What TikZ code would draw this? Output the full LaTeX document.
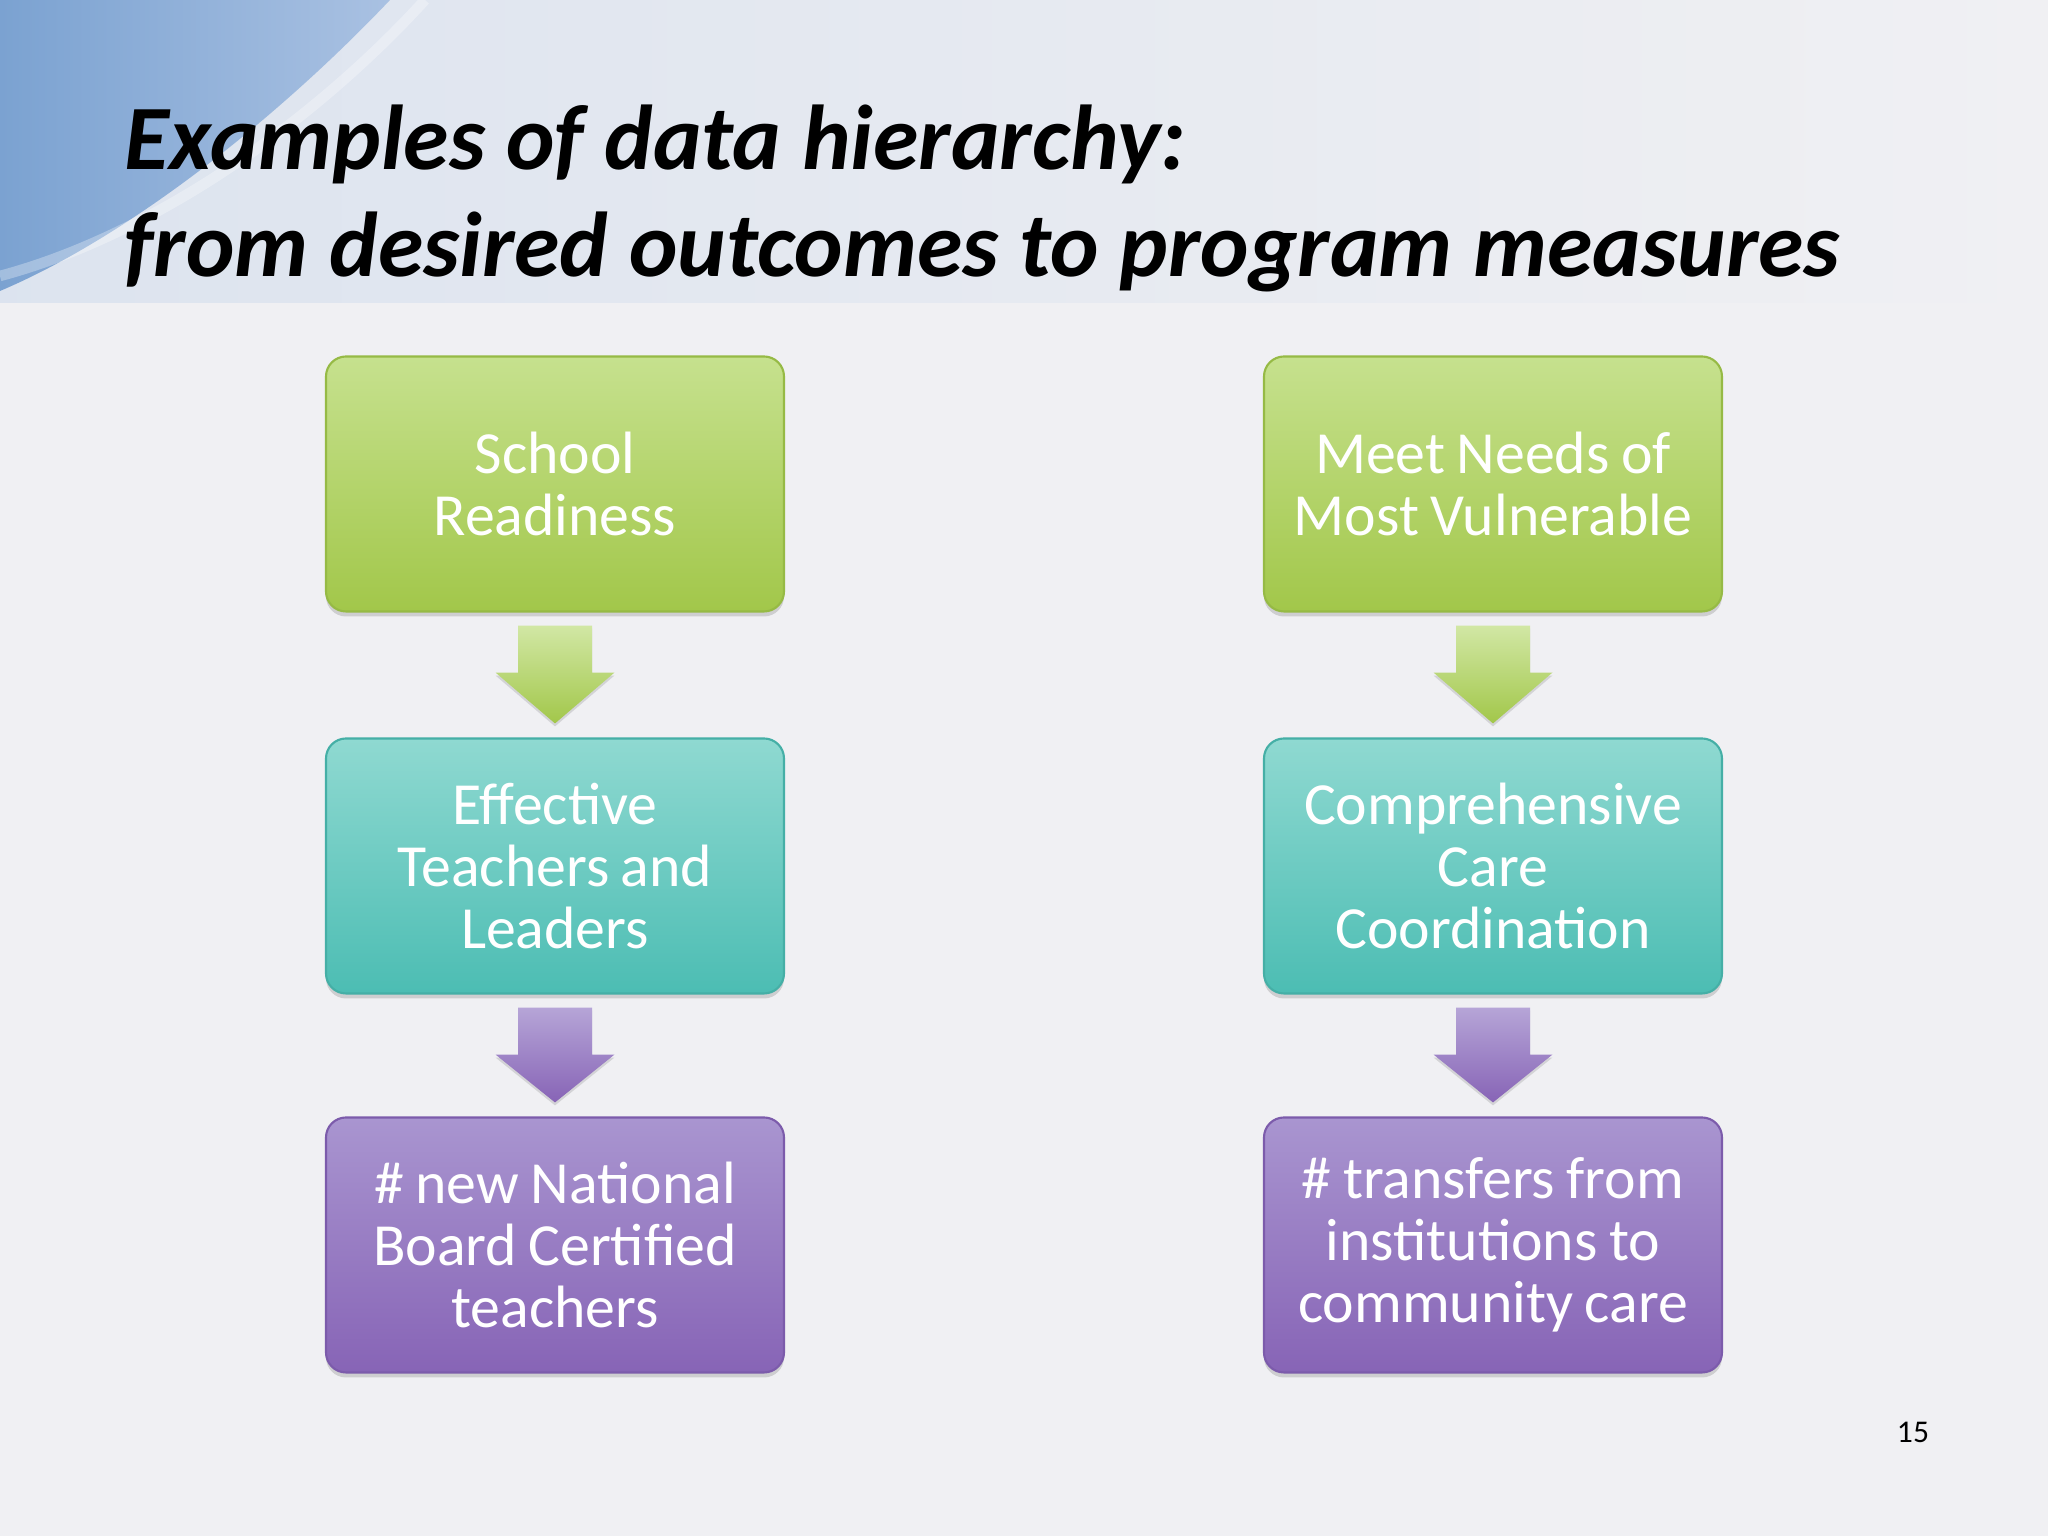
\documentclass[tikz,border=0pt]{standalone}
\usepackage{fontspec}
\setmainfont{Carlito}
\newfontfamily\boxfont{Carlito}[WordSpace=0.85]
\usepackage{tikz}
\usetikzlibrary{calc,shadows}
\usepackage{xcolor}
\definecolor{slidebg}{HTML}{F0F0F3}
\definecolor{bandbg}{HTML}{E9ECF2}
\definecolor{swooshA}{HTML}{7BA2D1}
\definecolor{swooshB}{HTML}{A9C1E2}
\definecolor{greentop}{HTML}{C6E18E}
\definecolor{greenbot}{HTML}{A2C74A}
\definecolor{greenedge}{HTML}{96BA45}
\definecolor{tealtop}{HTML}{8FD9D1}
\definecolor{tealbot}{HTML}{4CBDB3}
\definecolor{tealedge}{HTML}{45AFA6}
\definecolor{purptop}{HTML}{A995D0}
\definecolor{purpbot}{HTML}{8764B6}
\definecolor{purpedge}{HTML}{7C5BAB}
\colorlet{arrgreentop}{greentop!80!white}
\colorlet{arrgreenbot}{greenbot}
\colorlet{arrpurptop}{purptop!85!white}
\colorlet{arrpurpbot}{purpbot}
\tikzstyle{stepbox}=[rectangle,rounded corners=0.2cm,minimum width=4.58cm,
  minimum height=2.55cm,inner sep=0pt,align=center,
  text=white,line width=0.6pt,font=\boxfont\fontsize{17}{17.7}\selectfont,
  drop shadow={opacity=0.3,shadow xshift=0pt,shadow yshift=-0.05cm}]
\tikzstyle{outcome}=[stepbox,draw=greenedge,top color=greentop,bottom color=greenbot]
\tikzstyle{strategy}=[stepbox,draw=tealedge,top color=tealtop,bottom color=tealbot]
\tikzstyle{measure}=[stepbox,draw=purpedge,top color=purptop,bottom color=purpbot]
\tikzstyle{title line}=[anchor=base west,inner sep=0pt,
  font=\fontsize{26.2}{31}\selectfont\bfseries\itshape]

\begin{document}
\begin{tikzpicture}
  \useasboundingbox (0,0) rectangle (20.48,15.36);
  % slide background
  \fill[slidebg] (0,0) rectangle (20.48,15.36);
  \shade[left color=bandbg!80!swooshB,right color=slidebg] (0,12.33) rectangle (20.48,15.36);
  \shade[left color=swooshA,right color=swooshB] (0,15.36) -- (3.9,15.36)
     .. controls (2.8,14.2) and (1.3,13.0) .. (0,12.45) -- cycle;
  \draw[white,opacity=0.3,line width=3pt] (4.25,15.36)
     .. controls (3.1,14.1) and (1.5,13.0) .. (0,12.6);

  \node[title line] (title1) at (1.24,13.66) {Examples of data hierarchy:};
  \node[title line] (title2) at (1.24,12.59) {from desired outcomes to program measures};

  % left column
  \node[outcome]  (school) at (5.55,10.52) {School\\Readiness};
  \node[strategy] (teach)  at (5.55,6.70)  {Effective\\Teachers and\\Leaders};
  \node[measure]  (board)  at (5.55,2.91)  {\# new National\\Board Certified\\teachers};
  % right column
  \node[outcome]  (needs)  at (14.93,10.52) {Meet Needs of\\Most Vulnerable};
  \node[strategy] (care)   at (14.93,6.70)  {Comprehensive\\Care\\Coordination};
  \node[measure]  (trans)  at (14.93,2.91)  {\# transfers from\\institutions to\\community care};

  \foreach \src/\dst/\ctop/\cbot in {school/teach/arrgreentop/arrgreenbot,
      teach/board/arrpurptop/arrpurpbot, needs/care/arrgreentop/arrgreenbot,
      care/trans/arrpurptop/arrpurpbot}{
    \shade[top color=\ctop,bottom color=\cbot,
      drop shadow={opacity=0.25,shadow xshift=0pt,shadow yshift=-0.03cm}]
      ($(\src.south)+(-0.37,-0.13)$) -- ($(\src.south)+(0.37,-0.13)$)
      -- ($(\src.south)+(0.37,-0.60)$) -- ($(\src.south)+(0.595,-0.60)$)
      -- ($(\dst.north)+(0,0.14)$)
      -- ($(\src.south)+(-0.595,-0.60)$) -- ($(\src.south)+(-0.37,-0.60)$) -- cycle;
  }

  \node[font=\fontsize{9}{10}\selectfont] (page) at (19.13,1.04) {15};
\end{tikzpicture}
\end{document}
